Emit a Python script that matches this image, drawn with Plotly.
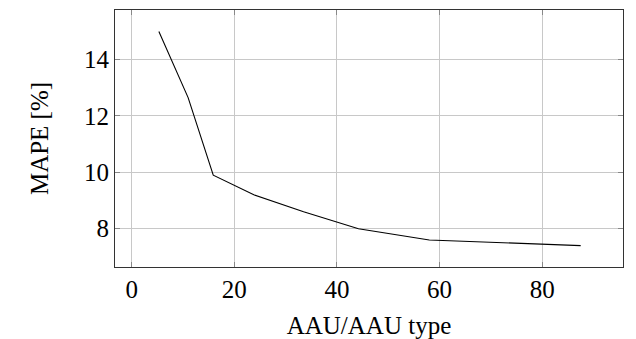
import plotly.graph_objects as go

aau_per_type = [5.3, 11.0, 15.9, 23.8, 33.5, 44.2, 58.0, 87.5]
mape = [15.0, 12.65, 9.9, 9.2, 8.6, 8.0, 7.6, 7.4]

x_ticks = [0, 20, 40, 60, 80]
y_ticks = [8, 10, 12, 14]

font_family = "Liberation Serif, DejaVu Serif, serif"
fs = 25

fig = go.Figure()
fig.add_trace(go.Scatter(
    x=aau_per_type, y=mape, mode="lines",
    line=dict(color="black", width=1.1),
    showlegend=False,
))

axis_common = dict(
    showgrid=True, gridcolor="#c8c8c8", gridwidth=1,
    showline=True, linecolor="#333333", linewidth=1.2, mirror="ticks",
    ticks="inside", ticklen=5, tickcolor="#888888", tickwidth=1,
    zeroline=False,
    tickfont=dict(family=font_family, size=fs, color="black"),
)

fig.update_layout(
    width=628, height=331,
    margin=dict(l=107, r=13, t=1.5, b=72),
    paper_bgcolor="white", plot_bgcolor="white",
    font=dict(family=font_family, size=fs, color="black"),
    xaxis=dict(
        range=[-3.25, 95.75], tickvals=x_ticks,
        title=dict(text="AAU/AAU type", font=dict(family=font_family, size=fs), standoff=14),
        **axis_common,
    ),
    yaxis=dict(
        range=[6.64, 15.76], tickvals=y_ticks,
        title=dict(text="MAPE [%]", font=dict(family=font_family, size=fs), standoff=28),
        **axis_common,
    ),
)

fig.write_html("out.html")
